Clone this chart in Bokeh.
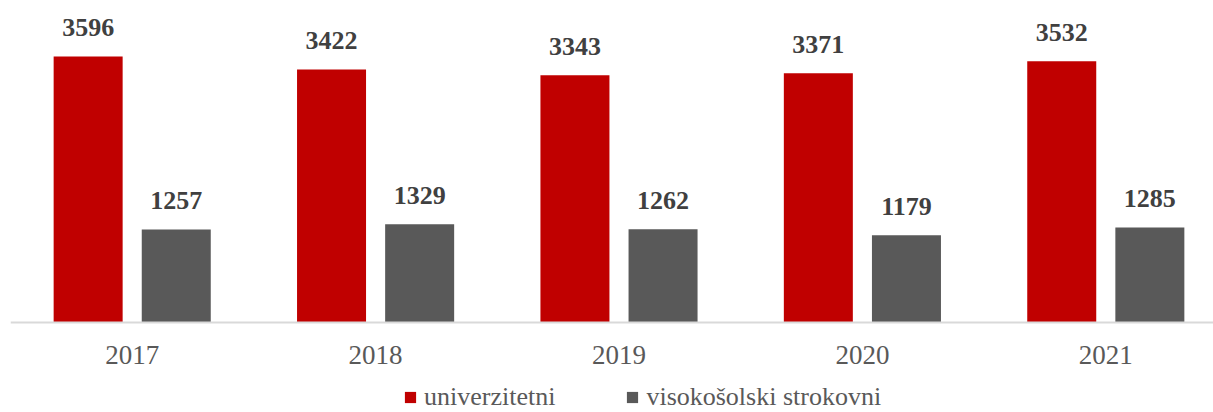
from bokeh.plotting import figure
from bokeh.models import Range1d, FixedTicker, ColumnDataSource, Legend, LegendItem
from bokeh.core.properties import value
from bokeh.embed import file_html
from bokeh.resources import INLINE

years = ["2017", "2018", "2019", "2020", "2021"]
univerzitetni = [3596, 3422, 3343, 3371, 3532]
visokosolski = [1257, 1329, 1262, 1179, 1285]
series_names = ["univerzitetni", "visokošolski strokovni"]

RED = "#C00000"
GRAY = "#595959"
FONT = "Liberation Serif"

centers = [i + 0.5 for i in range(len(years))]
off = 0.181
bw = 0.2835
PX_PER_UNIT = 314 / 4245.0

src_u = ColumnDataSource(dict(x=[c - off for c in centers], top=univerzitetni,
                              lbl=[str(v) for v in univerzitetni]))
src_v = ColumnDataSource(dict(x=[c + off for c in centers], top=visokosolski,
                              lbl=[str(v) for v in visokosolski]))

p = figure(frame_width=1203, frame_height=404, output_backend="svg", toolbar_location=None,
           x_range=Range1d(0, 4.9425), y_range=Range1d(-90 / PX_PER_UNIT, 4245),
           min_border_left=10, min_border_right=0, min_border_top=8, min_border_bottom=0)

r1 = p.vbar(x="x", top="top", width=bw, source=src_u, fill_color=RED, line_color=None)
r2 = p.vbar(x="x", top="top", width=bw, source=src_v, fill_color=GRAY, line_color=None)

for s in (src_u, src_v):
    p.text(x="x", y="top", text="lbl", source=s, text_align="center",
           text_baseline="alphabetic", y_offset=-29,
           text_font=value(FONT), text_font_style="bold",
           text_font_size="26px", text_color="#404040")

p.yaxis.visible = False
p.xgrid.visible = False
p.ygrid.visible = False
p.outline_line_color = None

ax = p.xaxis[0]
ax.fixed_location = 0
ax.ticker = FixedTicker(ticks=centers)
ax.major_label_overrides = {c: y for c, y in zip(centers, years)}
ax.major_tick_line_color = None
ax.minor_tick_line_color = None
ax.axis_line_color = "#D9D9D9"
ax.axis_line_width = 2
ax.major_label_text_font = FONT
ax.major_label_text_font_size = "27px"
ax.major_label_text_color = GRAY
ax.major_label_standoff = 17

legend = Legend(items=[LegendItem(label=series_names[0], renderers=[r1]),
                       LegendItem(label=series_names[1], renderers=[r2])],
                orientation="horizontal", location=(393, 0),
                label_text_font=FONT, label_text_font_size="26px",
                label_text_color=GRAY, glyph_width=14, glyph_height=14,
                label_standoff=7, spacing=70, padding=0, margin=0,
                border_line_color=None, background_fill_alpha=0)
p.add_layout(legend, "center")

open("out.html", "w").write(file_html(p, INLINE))
